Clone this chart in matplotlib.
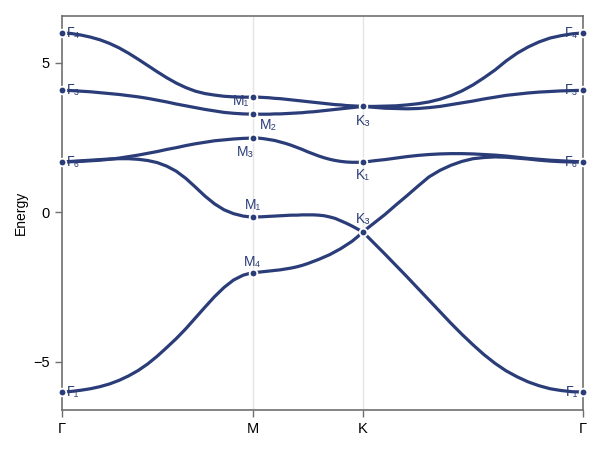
import numpy as np
import matplotlib.pyplot as plt

plt.rcParams['font.family'] = ['Liberation Sans', 'DejaVu Sans']

# high-symmetry path (Gamma - M - K - Gamma), lengths in reciprocal units
kpath_labels = ["Γ", "M", "K", "Γ"]
kpath_pos = [0.0, 0.5774, 0.9107, 1.5774]

# energies read along each segment at 21 evenly spaced points
band_GM = [
    [6.00, 5.98, 5.93, 5.86, 5.77, 5.65, 5.50, 5.32, 5.12, 4.91, 4.70,
     4.50, 4.32, 4.17, 4.05, 3.97, 3.92, 3.88, 3.86, 3.85, 3.85],
    [4.08, 4.07, 4.05, 4.03, 4.00, 3.97, 3.94, 3.90, 3.86, 3.81, 3.75,
     3.69, 3.62, 3.56, 3.50, 3.44, 3.39, 3.34, 3.31, 3.29, 3.28],
    [1.68, 1.69, 1.70, 1.72, 1.74, 1.77, 1.81, 1.86, 1.91, 1.97, 2.03,
     2.10, 2.16, 2.23, 2.29, 2.34, 2.39, 2.42, 2.45, 2.47, 2.48],
    [1.68, 1.70, 1.72, 1.74, 1.76, 1.78, 1.79, 1.79, 1.77, 1.73, 1.66,
     1.54, 1.37, 1.13, 0.84, 0.54, 0.28, 0.08, -0.05, -0.13, -0.17],
    [-6.02, -6.00, -5.96, -5.91, -5.84, -5.75, -5.63, -5.48, -5.30, -5.08, -4.82,
     -4.53, -4.23, -3.90, -3.54, -3.18, -2.83, -2.52, -2.27, -2.11, -2.02],
]
band_MK = [
    [3.85, 3.85, 3.84, 3.83, 3.81, 3.80, 3.78, 3.76, 3.74, 3.72, 3.70,
     3.68, 3.66, 3.64, 3.62, 3.60, 3.59, 3.57, 3.56, 3.55, 3.54],
    [3.28, 3.28, 3.28, 3.28, 3.29, 3.29, 3.30, 3.31, 3.32, 3.33, 3.35,
     3.36, 3.38, 3.40, 3.42, 3.44, 3.46, 3.48, 3.50, 3.52, 3.54],
    [2.48, 2.48, 2.46, 2.43, 2.40, 2.35, 2.30, 2.24, 2.17, 2.10, 2.02,
     1.95, 1.88, 1.82, 1.77, 1.73, 1.70, 1.68, 1.67, 1.67, 1.67],
    [-0.17, -0.16, -0.15, -0.14, -0.13, -0.12, -0.11, -0.10, -0.10, -0.09, -0.09,
     -0.09, -0.10, -0.12, -0.16, -0.21, -0.29, -0.37, -0.46, -0.56, -0.66],
    [-2.02, -2.01, -1.99, -1.97, -1.95, -1.93, -1.90, -1.87, -1.83, -1.78, -1.72,
     -1.65, -1.58, -1.50, -1.42, -1.32, -1.22, -1.10, -0.98, -0.83, -0.66],
]
band_KG = [
    [3.54, 3.54, 3.55, 3.56, 3.59, 3.63, 3.69, 3.78, 3.90, 4.06, 4.26,
     4.50, 4.76, 5.06, 5.32, 5.53, 5.70, 5.83, 5.91, 5.97, 6.00],
    [3.54, 3.51, 3.48, 3.47, 3.46, 3.47, 3.50, 3.54, 3.60, 3.66, 3.72,
     3.79, 3.85, 3.91, 3.95, 3.99, 4.02, 4.04, 4.06, 4.07, 4.08],
    [1.67, 1.72, 1.76, 1.81, 1.86, 1.90, 1.93, 1.95, 1.96, 1.96, 1.95,
     1.93, 1.91, 1.88, 1.84, 1.80, 1.77, 1.74, 1.72, 1.70, 1.68],
    [-0.66, -1.03, -1.40, -1.78, -2.16, -2.55, -2.94, -3.33, -3.72, -4.09, -4.44,
     -4.77, -5.06, -5.31, -5.51, -5.68, -5.81, -5.91, -5.97, -6.01, -6.02],
    [-0.66, -0.37, -0.08, 0.24, 0.55, 0.87, 1.18, 1.40, 1.57, 1.70, 1.79,
     1.83, 1.85, 1.84, 1.81, 1.78, 1.74, 1.71, 1.69, 1.68, 1.68],
]

# irreps at high-symmetry points: (k index, energy, label, offset in px, ha)
irreps = [
    (0, 6.00, "Γ₄", (5, 0), "left"), (0, 4.08, "Γ₃", (5, 0), "left"),
    (0, 1.68, "Γ₆", (5, 0), "left"), (0, -6.02, "Γ₁", (5, 0), "left"),
    (1, 3.85, "M₁", (-4, -4), "right"), (1, 3.28, "M₂", (7, -11), "left"),
    (1, 2.48, "M₃", (-7, -14), "center"), (1, -0.17, "M₁", (0, 12), "center"),
    (1, -2.02, "M₄", (0, 11), "center"),
    (2, 3.54, "K₃", (0, -15), "center"), (2, 1.67, "K₁", (0, -13), "center"),
    (2, -0.66, "K₃", (0, 13), "center"),
    (3, 6.00, "Γ₄", (-5, 0), "right"), (3, 4.08, "Γ₃", (-5, 0), "right"),
    (3, 1.68, "Γ₆", (-5, 0), "right"), (3, -6.02, "Γ₁", (-5, 0), "right"),
]

col = "#2b3d78"
fig = plt.figure(figsize=(6, 4.5), dpi=100)
ax = fig.add_axes([0.103, 0.089, 0.869, 0.875])

segs = [band_GM, band_MK, band_KG]
for b in range(5):
    ks, es = [], []
    for s, seg in enumerate(segs):
        k = np.linspace(kpath_pos[s], kpath_pos[s + 1], len(seg[b]))
        ks.extend(k)
        es.extend(seg[b])
    ax.plot(ks, es, color=col, lw=2.3, solid_capstyle="round",
            solid_joinstyle="round", zorder=3)

for ki, e, lab, off, ha in irreps:
    ax.plot(kpath_pos[ki], e, "o", color=col, ms=5.5, mec="white", mew=1.3,
            zorder=4, clip_on=False)
    ax.annotate(lab, (kpath_pos[ki], e), xytext=off, textcoords="offset pixels",
                ha=ha, va="center", color=col, fontsize=10, zorder=5)

ax.set_xlim(kpath_pos[0], kpath_pos[-1])
ax.set_ylim(-6.62, 6.56)
ax.set_xticks(kpath_pos)
ax.set_xticklabels(kpath_labels)
ax.set_yticks([-5, 0, 5])
ax.set_yticklabels(["−5", "0", "5"])
ax.set_ylabel("Energy", fontsize=10)
ax.tick_params(labelsize=10.5, color="#707070", length=5, width=1)
for k in kpath_pos[1:3]:
    ax.axvline(k, color="#e5e5e5", lw=1, zorder=1)
for sp in ax.spines.values():
    sp.set_color("#707070")
    sp.set_linewidth(1.2)

fig.savefig("out.png", dpi=100)
